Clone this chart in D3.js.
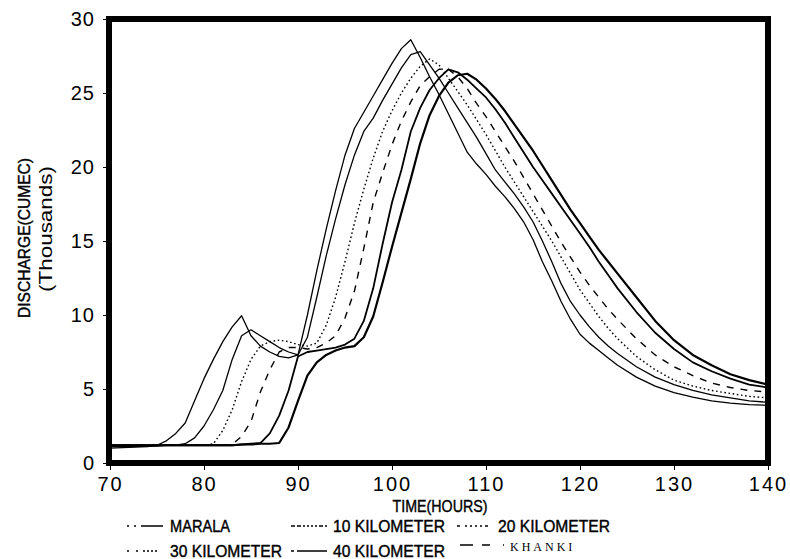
<!DOCTYPE html>
<html>
<head>
<meta charset="UTF-8">
<title>Discharge hydrographs</title>
<script src="https://cdn.jsdelivr.net/npm/d3@7/dist/d3.min.js"></script>
<style>
  body { margin: 0; background: #fff; }
  text { font-family: "Liberation Sans", Arial, sans-serif; fill: #000; }
  .heavy { stroke: #000; stroke-width: 0.4px; }
</style>
</head>
<body>
<svg id="chart" width="790" height="559"></svg>
<script>
// time axis (hours) shared by all series
var hours = [70, 72, 74, 75, 76, 77, 78, 79, 80, 81, 82, 83, 84, 85, 86, 87, 88, 89,
  90, 91, 92, 93, 94, 95, 96, 97, 98, 99, 100, 101, 102, 103, 104, 105, 106, 107, 108, 109,
  110, 111, 112, 113, 114, 115, 116, 117, 118, 119, 120, 121, 122, 123, 124,
  126, 128, 130, 132, 134, 136, 138, 140];

// discharge in thousands of cumec
var marala = [1.0, 1.05, 1.1, 1.2, 1.5, 2.0, 2.7, 4.2, 5.7, 7.0, 8.2, 9.2, 9.95, 8.6, 7.9, 7.5, 7.2, 7.1,
  7.3, 10.0, 13.0, 15.8, 18.4, 20.8, 22.6, 23.7, 24.8, 25.9, 27.0, 28.0, 28.6, 27.4, 26.1, 24.9, 23.6, 22.3, 21.0, 20.2,
  19.5, 18.7, 18.0, 17.2, 16.3, 15.1, 13.6, 12.3, 10.9, 9.7, 8.7, 8.1, 7.6, 7.1, 6.6,
  5.8, 5.2, 4.75, 4.45, 4.2, 4.05, 3.95, 3.9];
var km10 = [1.1, 1.1, 1.15, 1.15, 1.2, 1.2, 1.3, 1.7, 2.5, 3.6, 4.9, 7.0, 8.6, 9.0, 8.6, 8.2, 7.8, 7.5,
  7.3, 8.5, 11.2, 14.0, 16.5, 18.8, 20.8, 22.4, 23.3, 24.5, 25.6, 26.7, 27.6, 27.8, 26.9, 26.0, 25.0, 24.0, 23.0, 22.0,
  20.9, 19.8, 19.0, 18.2, 17.3, 16.3, 15.0, 13.6, 12.1, 10.9, 10.0, 9.2, 8.5, 7.9, 7.4,
  6.5, 5.8, 5.3, 4.9, 4.6, 4.4, 4.2, 4.1];
var km20 = [1.2, 1.2, 1.2, 1.2, 1.2, 1.2, 1.2, 1.2, 1.2, 1.3, 2.2, 3.6, 5.5, 7.0, 7.9, 8.2, 8.3, 8.2,
  8.0, 7.9, 8.1, 9.3, 11.2, 13.6, 16.2, 18.5, 20.6, 22.4, 23.8, 25.0, 26.0, 26.8, 27.3, 26.9, 26.0, 25.1, 24.2, 23.2,
  22.2, 21.1, 20.0, 19.0, 18.0, 17.0, 16.0, 15.0, 13.9, 12.8, 11.7, 10.8, 9.9, 9.1, 8.4,
  7.2, 6.3, 5.6, 5.2, 4.9, 4.7, 4.5, 4.4];
var km30 = [1.2, 1.2, 1.2, 1.2, 1.2, 1.2, 1.2, 1.2, 1.2, 1.2, 1.2, 1.25, 1.8, 2.8, 4.8, 6.3, 7.5, 7.8,
  7.8, 7.7, 7.8, 8.1, 8.6, 9.8, 11.6, 14.5, 17.6, 19.6, 21.5, 23.1, 24.4, 25.5, 26.1, 26.6, 26.6, 26.1, 25.3, 24.3,
  23.4, 22.4, 21.4, 20.4, 19.3, 18.2, 17.1, 16.0, 14.9, 13.9, 12.9, 12.0, 11.2, 10.4, 9.7,
  8.4, 7.3, 6.5, 5.9, 5.4, 5.1, 4.9, 4.8];
var km40 = [1.2, 1.2, 1.2, 1.2, 1.2, 1.2, 1.2, 1.2, 1.2, 1.2, 1.2, 1.2, 1.25, 1.3, 1.35, 2.0, 3.2, 4.9,
  7.2, 7.5, 7.6, 7.7, 7.8, 8.0, 8.4, 9.6, 11.8, 14.8, 17.6, 19.8, 22.4, 24.0, 25.2, 26.0, 26.6, 26.4, 25.9, 25.3,
  24.7, 23.9, 23.0, 22.0, 21.0, 20.0, 19.1, 18.2, 17.3, 16.4, 15.5, 14.6, 13.6, 12.7, 11.8,
  10.2, 8.8, 7.7, 6.8, 6.2, 5.7, 5.3, 5.1];
var khanki = [1.2, 1.2, 1.2, 1.2, 1.2, 1.2, 1.2, 1.2, 1.2, 1.2, 1.2, 1.2, 1.25, 1.25, 1.3, 1.3, 1.35, 2.4,
  4.2, 5.9, 6.8, 7.3, 7.6, 7.8, 7.9, 8.5, 9.9, 12.2, 14.6, 16.9, 19.2, 21.6, 23.5, 24.8, 25.7, 26.2, 26.3, 25.9,
  25.3, 24.6, 23.8, 22.9, 22.0, 21.1, 20.1, 19.1, 18.1, 17.1, 16.2, 15.3, 14.4, 13.6, 12.8,
  11.2, 9.6, 8.3, 7.3, 6.6, 6.0, 5.6, 5.3];

var seriesNames = ["MARALA", "10 KILOMETER", "20 KILOMETER", "30 KILOMETER", "40 KILOMETER", "KHANKI"];
var xTicks = [70, 80, 90, 100, 110, 120, 130, 140];
var yTicks = [0, 5, 10, 15, 20, 25, 30];

var allSeries = [marala, km10, km20, km30, km40, khanki];
// line look per series: plot dash, plot width, legend sample dash
var styles = [
  { dash: null, w: 1.3, legDash: "2,5,2,5,22" },
  { dash: null, w: 1.3, legDash: "4,2,4,2,2,2,2,2,2,2,2,2" },
  { dash: "1.6,2.6", w: 1.4, legDash: "3,5,2,3,2,3,2,3,2,3" },
  { dash: "7,7", w: 1.4, legDash: "2,7,2,5,2,2,2,2,2,2" },
  { dash: null, w: 1.8, legDash: "3,3,31" },
  { dash: null, w: 2.2, legDash: "13,9,8" }
];

var svg = d3.select("#chart");
var plotL = 110, plotR = 768, plotT = 19, plotB = 463;

var x = d3.scaleLinear().domain([70, 140]).range([plotL, plotR]);
var y = d3.scaleLinear().domain([0, 30]).range([plotB, plotT]);

// axes
var yAxis = svg.append("g")
  .attr("transform", "translate(" + plotL + ",0)")
  .call(d3.axisLeft(y).tickValues(yTicks).tickSize(7).tickPadding(8));
yAxis.select(".domain").remove();
yAxis.selectAll("text").style("font-size", "20px").style("letter-spacing", "1px");

var xAxis = svg.append("g")
  .attr("transform", "translate(0," + plotB + ")")
  .call(d3.axisBottom(x).tickValues(xTicks).tickSize(7).tickPadding(7));
xAxis.select(".domain").remove();
xAxis.selectAll("text").style("font-size", "20px").style("letter-spacing", "2px");

// curves
var line = d3.line()
  .x(function (d) { return x(d[0]); })
  .y(function (d) { return y(d[1]); });

allSeries.forEach(function (vals, i) {
  var pts = hours.map(function (h, k) { return [h, vals[k]]; });
  svg.append("path")
    .datum(pts)
    .attr("d", line)
    .attr("fill", "none")
    .attr("stroke", "#000")
    .attr("stroke-width", styles[i].w)
    .attr("stroke-dasharray", styles[i].dash)
    .attr("stroke-linejoin", "round");
});

// heavy frame
svg.append("rect")
  .attr("x", plotL - 1).attr("y", plotT)
  .attr("width", plotR - plotL + 1).attr("height", plotB - plotT)
  .attr("fill", "none")
  .attr("stroke", "#000")
  .attr("stroke-width", 6);

// axis titles
svg.append("text")
  .attr("class", "heavy")
  .attr("transform", "translate(30,238) rotate(-90)")
  .attr("text-anchor", "middle")
  .attr("textLength", 160).attr("lengthAdjust", "spacingAndGlyphs")
  .style("font-size", "16px")
  .text("DISCHARGE(CUMEC)");
svg.append("text")
  .attr("transform", "translate(52,229) rotate(-90)")
  .attr("text-anchor", "middle")
  .attr("textLength", 126).attr("lengthAdjust", "spacingAndGlyphs")
  .style("font-size", "19px")
  .text("(Thousands)");
svg.append("text")
  .attr("class", "heavy")
  .attr("x", 440).attr("y", 512)
  .attr("text-anchor", "middle")
  .attr("textLength", 95).attr("lengthAdjust", "spacingAndGlyphs")
  .style("font-size", "17px")
  .text("TIME(HOURS)");

// legend
var legPos = [
  { lx: 127, tx: 170, y: 532 },
  { lx: 291, tx: 333, y: 532 },
  { lx: 457, tx: 498, y: 532 },
  { lx: 127, tx: 170, y: 557 },
  { lx: 291, tx: 333, y: 557 },
  { lx: 460, tx: 510, y: 551 }
];
seriesNames.forEach(function (name, i) {
  var p = legPos[i];
  svg.append("line")
    .attr("x1", p.lx).attr("x2", p.tx - 6)
    .attr("y1", p.y - 6).attr("y2", p.y - 6)
    .attr("stroke", "#000")
    .attr("stroke-width", 1.3)
    .attr("stroke-dasharray", styles[i].legDash);
  var t = svg.append("text")
    .attr("x", p.tx).attr("y", p.y)
    .text(name);
  if (name === "KHANKI") {
    t.style("font-family", "'Liberation Serif', serif").style("font-size", "12px").style("letter-spacing", "3px");
  } else {
    t.attr("class", "heavy")
      .attr("textLength", name.length === 6 ? 60 : 112)
      .attr("lengthAdjust", "spacingAndGlyphs")
      .style("font-size", "16px");
  }
});
</script>
</body>
</html>
